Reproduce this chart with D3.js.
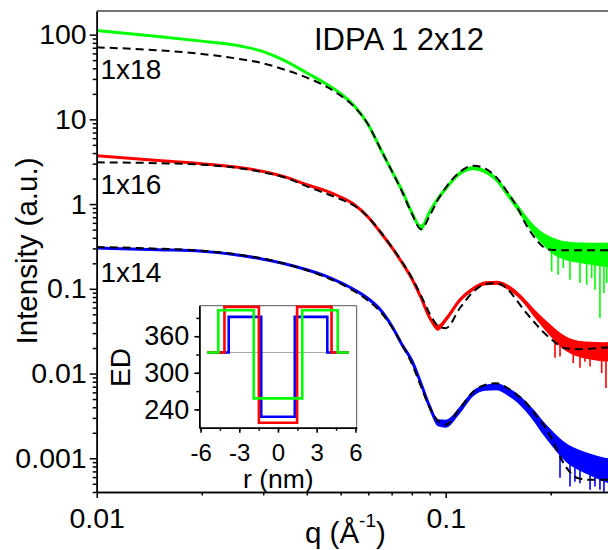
<!DOCTYPE html>
<html><head><meta charset="utf-8">
<script src="https://cdn.jsdelivr.net/npm/d3@7"></script>
<style>body{margin:0;background:#fff;} svg{display:block;font-family:Arial,"Liberation Sans",sans-serif;}</style>
</head><body><svg id="c" width="608" height="550"></svg>
<script>
// ---------------- data ----------------
const qGrid = [0.01, 0.015, 0.02, 0.025, 0.03, 0.035, 0.04, 0.045, 0.05, 0.055, 0.06, 0.065, 0.07, 0.075, 0.08, 0.085, 0.09, 0.095, 0.1, 0.11, 0.12, 0.13, 0.14, 0.15, 0.16, 0.17, 0.18, 0.19, 0.2, 0.22, 0.24, 0.26, 0.28, 0.3];

const green18 = [111.5, 95.2, 83.8, 75.2, 63.0, 48.0, 35.3, 26.8, 20.1, 14.1, 8.66, 4.51, 2.48, 1.44, 0.792, 0.526, 0.813, 1.158, 1.52, 2.32, 2.65, 2.41, 1.94, 1.33, 0.932, 0.654, 0.485, 0.390, 0.332, 0.282, 0.267, 0.260, 0.253, 0.253];
const green18Fit = [70.8, 65.3, 59.2, 52.5, 45.8, 37.9, 31.1, 25.0, 19.05, 13.75, 8.66, 4.51, 2.48, 1.40, 0.770, 0.505, 0.730, 1.127, 1.56, 2.41, 2.84, 2.62, 2.05, 1.40, 0.932, 0.571, 0.401, 0.314, 0.289, 0.2855, 0.2855, 0.2855, 0.2855, 0.2855];
const green18Noise = [0,0,0,0,0,0,0,0,0,0,0,0,0,0.012,0.018,0.035,0.03,0.024,0.024,0.024,0.024,0.024,0.03,0.035,0.041,0.047,0.059,0.075,0.094,0.11,0.12,0.13,0.14,0.15];

const red16 = [3.73, 3.27, 3.00, 2.74, 2.43, 2.07, 1.69, 1.45, 1.21, 0.970, 0.700, 0.465, 0.310, 0.203, 0.1316, 0.0785, 0.0456, 0.0347, 0.0432, 0.0743, 0.1003, 0.1164, 0.118, 0.106, 0.0875, 0.0676, 0.0508, 0.0398, 0.0320, 0.0228, 0.0196, 0.0186, 0.0181, 0.0181];
const red16Fit = [3.11, 3.04, 2.92, 2.69, 2.37, 2.03, 1.62, 1.35, 1.14, 0.944, 0.700, 0.472, 0.314, 0.209, 0.135, 0.0829, 0.0508, 0.0367, 0.0343, 0.0598, 0.0924, 0.1133, 0.1164, 0.1003, 0.0724, 0.0522, 0.0398, 0.0311, 0.0258, 0.0199, 0.0194, 0.0196, 0.0202, 0.0204];
const red16Noise = [0,0,0,0,0,0,0,0,0,0,0,0,0,0,0.012,0.018,0.024,0.035,0.03,0.024,0.024,0.024,0.024,0.03,0.03,0.035,0.047,0.059,0.07,0.085,0.095,0.105,0.112,0.118];

const blue14 = [0.303, 0.289, 0.278, 0.253, 0.2236, 0.1952, 0.168, 0.1428, 0.118, 0.0963, 0.0764, 0.0567, 0.0367, 0.0219, 0.01416, 0.00758, 0.00406, 0.00262, 0.00256, 0.00374, 0.00585, 0.00680, 0.00699, 0.00618, 0.00518, 0.00406, 0.00309, 0.00229, 0.00179, 0.00119, 0.000960, 0.000838, 0.000752, 0.000693];
const blue14Fit = [0.3114, 0.2974, 0.2818, 0.2562, 0.2267, 0.1952, 0.1658, 0.1389, 0.1149, 0.0924, 0.0724, 0.0537, 0.0357, 0.0219, 0.01305, 0.00699, 0.00395, 0.00277, 0.00249, 0.00395, 0.0061, 0.00738, 0.00768, 0.0068, 0.00562, 0.00452, 0.00335, 0.00256, 0.00179, 0.000815, 0.00058, 0.000557, 0.000557, 0.000557];
const blue14Noise = [0,0,0,0,0,0,0,0,0,0,0,0,0,0.006,0.012,0.018,0.03,0.041,0.047,0.041,0.035,0.035,0.041,0.047,0.053,0.059,0.07,0.08,0.09,0.11,0.12,0.13,0.14,0.15];

// downward noise spikes (q, lowest intensity reached)
const greenSpikeQ = [0.2012, 0.2099, 0.2173, 0.2271, 0.2425, 0.2535, 0.2620, 0.2678, 0.2767, 0.2841, 0.2892];
const greenSpikeI = [0.1605, 0.1467, 0.176, 0.128, 0.117, 0.1118, 0.134, 0.0976, 0.0452, 0.0892, 0.117];
const redSpikeQ = [0.2057, 0.2126, 0.2320, 0.2425, 0.2506, 0.2592, 0.2708, 0.2799, 0.2879];
const redSpikeI = [0.01537, 0.0159, 0.0133, 0.0117, 0.01378, 0.0121, 0.01455, 0.01014, 0.00674];
const blueSpikeQ = [0.2126, 0.2271, 0.2346, 0.2425, 0.2592, 0.2678, 0.2767, 0.2841];
const blueSpikeI = [0.000589, 0.000465, 0.000528, 0.000509, 0.000425, 0.000465, 0.000425, 0.000388];

const seriesNames = ["1x18", "1x16", "1x14"];
const seriesColors = ["#00ff00", "#ff0000", "#0000ff"];

const yMajorTicks = [0.001, 0.01, 0.1, 1, 10, 100];
const yTickLabels = ["0.001", "0.01", "0.1", "1", "10", "100"];
const xMajorTicks = [0.01, 0.1];
const xTickLabels = ["0.01", "0.1"];
const xMinorTicks = [0.02, 0.03, 0.04, 0.05, 0.06, 0.07, 0.08, 0.09, 0.2, 0.3];

// inset electron density profiles (order: 1x14, 1x16, 1x18)
const profileCoreRadius = [1.3, 1.48, 1.88];
const profileOuterRadius = [3.82, 4.15, 4.63];
const profileCoreED = [228, 218, 258];
const profileHeadED = [391.6, 408, 402.5];
const profileColors = ["#0000ff", "#ff0000", "#00ff00"];
const waterED = 333.3;
const profileRLimit = 5.5;
const insetYTicks = [240, 270, 300, 330, 360, 390];
const insetYLabels = [240, 300, 360];
const insetXTicks = [-6, -4.5, -3, -1.5, 0, 1.5, 3, 4.5, 6];
const insetXLabels = [-6, -3, 0, 3, 6];

// ---------------- drawing ----------------
const FONT = "Arial, Liberation Sans, sans-serif";
const svg = d3.select("#c");
const x = d3.scaleLog().domain([0.01, 0.3]).range([96.7, 612.2]);
const y = d3.scaleLog().domain([4e-4, 190]).range([492, 11]);

svg.append("defs").append("clipPath").attr("id", "clip")
  .append("rect").attr("x", 96.7).attr("y", 11).attr("width", 520).attr("height", 481);

const plot = svg.append("g").attr("clip-path", "url(#clip)");

function centerAt(qv, arr) {
  const lq = Math.log10(qv);
  for (let i = 0; i < qGrid.length - 1; i++) {
    if (qv >= qGrid[i] && qv <= qGrid[i + 1]) {
      const t = (lq - Math.log10(qGrid[i])) / (Math.log10(qGrid[i + 1]) - Math.log10(qGrid[i]));
      return Math.pow(10, Math.log10(arr[i]) * (1 - t) + Math.log10(arr[i + 1]) * t);
    }
  }
  return arr[arr.length - 1];
}

const dataSets = [
  {vals: green18, fit: green18Fit, noise: green18Noise, sq: greenSpikeQ, si: greenSpikeI, color: seriesColors[0]},
  {vals: red16, fit: red16Fit, noise: red16Noise, sq: redSpikeQ, si: redSpikeI, color: seriesColors[1]},
  {vals: blue14, fit: blue14Fit, noise: blue14Noise, sq: blueSpikeQ, si: blueSpikeI, color: seriesColors[2]}
];

const line = d3.line().x(d => x(d.q)).y(d => y(d.v)).curve(d3.curveMonotoneX);
const band = d3.area().x(d => x(d.q))
  .y0(d => y(d.v * Math.pow(10, -d.s))).y1(d => y(d.v * Math.pow(10, d.s)))
  .curve(d3.curveMonotoneX);

dataSets.forEach(ds => {
  const pts = qGrid.map((q, i) => ({q: q, v: ds.vals[i], s: ds.noise[i]}));
  plot.append("path").attr("d", band(pts)).attr("fill", ds.color).attr("stroke", "none");
  plot.append("path").attr("d", line(pts)).attr("fill", "none")
    .attr("stroke", ds.color).attr("stroke-width", 3);
  ds.sq.forEach((q, i) => {
    plot.append("line").attr("x1", x(q)).attr("x2", x(q))
      .attr("y1", y(centerAt(q, ds.vals))).attr("y2", y(ds.si[i]))
      .attr("stroke", ds.color).attr("stroke-width", 1.6);
  });
});
dataSets.forEach(ds => {
  const pts = qGrid.map((q, i) => ({q: q, v: ds.fit[i]}));
  plot.append("path").attr("d", line(pts)).attr("fill", "none")
    .attr("stroke", "#000").attr("stroke-width", 2).attr("stroke-dasharray", "8,5");
});

// axes
const yMinor = [];
for (let e = -4; e <= 2; e++) for (let m = 2; m <= 9; m++) {
  const v = m * Math.pow(10, e);
  if (v >= 4e-4 && v <= 190) yMinor.push(v);
}
const axStyle = g => { g.selectAll("path,line").attr("stroke", "#000").attr("stroke-width", 1.5); };

svg.append("g").attr("transform", "translate(96.7,0)")
  .call(d3.axisLeft(y).tickValues(yMinor).tickSize(4).tickSizeOuter(0).tickFormat(""))
  .call(axStyle);
svg.append("g").attr("transform", "translate(96.7,0)")
  .call(d3.axisLeft(y).tickValues(yMajorTicks).tickSize(7).tickSizeOuter(0).tickPadding(3)
    .tickFormat((d, i) => yTickLabels[i]))
  .call(axStyle)
  .call(g => g.selectAll("text").attr("font-size", 28.5).attr("font-family", FONT).attr("fill", "#000"));

svg.append("g").attr("transform", "translate(0,492)")
  .call(d3.axisBottom(x).tickValues(xMinorTicks).tickSize(3.5).tickSizeOuter(0).tickFormat(""))
  .call(axStyle);
svg.append("g").attr("transform", "translate(0,492)")
  .call(d3.axisBottom(x).tickValues(xMajorTicks).tickSize(6).tickSizeOuter(0).tickPadding(10)
    .tickFormat((d, i) => xTickLabels[i]))
  .call(axStyle)
  .call(g => g.selectAll("text").attr("font-size", 28.5).attr("font-family", FONT).attr("fill", "#000"));

// top border
svg.append("line").attr("x1", 96.7).attr("x2", 612).attr("y1", 11).attr("y2", 11)
  .attr("stroke", "#444").attr("stroke-width", 1.5);

// titles
svg.append("text").attr("x", 314).attr("y", 49.5).attr("font-size", 31).text("IDPA 1 2x12");
const labelY = [79, 194, 281.7];
seriesNames.forEach((n, i) => {
  svg.append("text").attr("x", 100.5).attr("y", labelY[i]).attr("font-size", 28).text(n);
});
svg.append("text").attr("transform", "translate(37,251) rotate(-90)")
  .attr("text-anchor", "middle").attr("font-size", 29.5).text("Intensity (a.u.)");
const xt = svg.append("text").attr("x", 305).attr("y", 543).attr("font-size", 29.5);
xt.append("tspan").text("q (Å");
xt.append("tspan").attr("font-size", 19).attr("dy", -16).text("-1");
xt.append("tspan").attr("dy", 16).text(")");

// ---------------- inset ----------------
const ix = d3.scaleLinear().domain([-6.1, 6.1]).range([199.3, 356.7]);
const iy = d3.scaleLinear().domain([210, 410]).range([427.7, 305.7]);
const inset = svg.append("g");
inset.append("rect").attr("x", ix(-6.1)).attr("y", iy(410))
  .attr("width", ix(6.1) - ix(-6.1)).attr("height", iy(210) - iy(410)).attr("fill", "#fff");
inset.append("line").attr("x1", ix(-6.1)).attr("x2", ix(6.1)).attr("y1", iy(410)).attr("y2", iy(410))
  .attr("stroke", "#555").attr("stroke-width", 1);
inset.append("line").attr("x1", ix(6.1)).attr("x2", ix(6.1)).attr("y1", iy(410)).attr("y2", iy(210))
  .attr("stroke", "#555").attr("stroke-width", 1);
inset.append("line").attr("x1", ix(-profileRLimit)).attr("x2", ix(profileRLimit))
  .attr("y1", iy(waterED)).attr("y2", iy(waterED)).attr("stroke", "#a8a8a8").attr("stroke-width", 1);

const stepLine = d3.line().x(d => ix(d[0])).y(d => iy(d[1]));
profileColors.forEach((c, i) => {
  const rc = profileCoreRadius[i], ro = profileOuterRadius[i];
  const pts = [[-profileRLimit, waterED], [-ro, waterED], [-ro, profileHeadED[i]], [-rc, profileHeadED[i]],
    [-rc, profileCoreED[i]], [rc, profileCoreED[i]], [rc, profileHeadED[i]], [ro, profileHeadED[i]],
    [ro, waterED], [profileRLimit, waterED]];
  inset.append("path").attr("d", stepLine(pts)).attr("fill", "none")
    .attr("stroke", c).attr("stroke-width", 2.6).attr("stroke-linejoin", "miter");
});

inset.append("g").attr("transform", `translate(${ix(-6.1)},0)`)
  .call(d3.axisLeft(iy).tickValues(insetYTicks).tickSize(3).tickSizeOuter(0).tickFormat(""))
  .call(axStyle);
inset.append("g").attr("transform", `translate(${ix(-6.1)},0)`)
  .call(d3.axisLeft(iy).tickValues(insetYLabels).tickSize(5).tickSizeOuter(0).tickPadding(5))
  .call(axStyle)
  .call(g => g.selectAll("text").attr("font-size", 27).attr("font-family", FONT).attr("fill", "#000"));
inset.append("g").attr("transform", `translate(0,${iy(210)})`)
  .call(d3.axisBottom(ix).tickValues(insetXTicks).tickSize(3).tickSizeOuter(0).tickFormat(""))
  .call(axStyle);
inset.append("g").attr("transform", `translate(0,${iy(210)})`)
  .call(d3.axisBottom(ix).tickValues(insetXLabels).tickSize(5).tickSizeOuter(0).tickPadding(11)
    .tickFormat(d => d < 0 ? "-" + Math.abs(d) : String(d)))
  .call(axStyle)
  .call(g => g.selectAll("text").attr("font-size", 24).attr("font-family", FONT).attr("fill", "#000"));

inset.append("text").attr("transform", "translate(130,367.5) rotate(-90)")
  .attr("text-anchor", "middle").attr("font-size", 28).text("ED");
inset.append("text").attr("x", 278.3).attr("y", 488).attr("text-anchor", "middle")
  .attr("font-size", 26.5).text("r (nm)");
</script></body></html>
